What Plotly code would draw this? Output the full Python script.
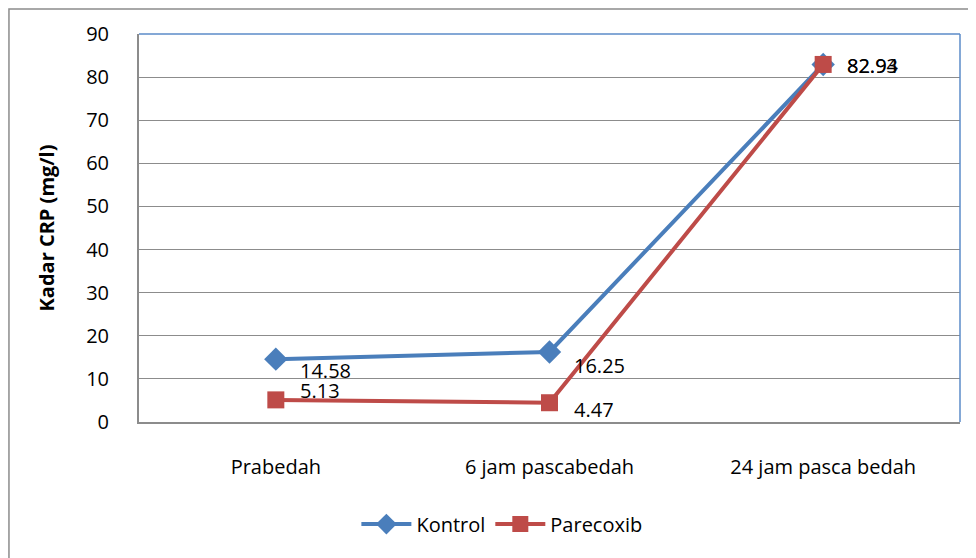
import plotly.graph_objects as go

categories = ["Prabedah", "6 jam pascabedah", "24 jam pasca bedah"]
kontrol = [14.58, 16.25, 82.93]
parecoxib = [5.13, 4.47, 82.94]
kontrol_labels = ["14.58", "16.25", "82.93"]
parecoxib_labels = ["5.13", "4.47", "82.94"]
y_ticks = [0, 10, 20, 30, 40, 50, 60, 70, 80, 90]

BLUE = "#4A7EBB"
RED = "#BE4B48"
FONT = "Open Sans, Lato, sans-serif"
FS = 20

fig = go.Figure()
fig.add_trace(go.Scatter(
    x=categories, y=kontrol, name="Kontrol", mode="lines+markers",
    line=dict(color=BLUE, width=4),
    marker=dict(symbol="diamond", size=18, color=BLUE),
))
fig.add_trace(go.Scatter(
    x=categories, y=parecoxib, name="Parecoxib", mode="lines+markers",
    line=dict(color=RED, width=4),
    marker=dict(symbol="square", size=17, color=RED),
))

# data labels
k_shift = [-11, -14, -1]
p_shift = [9, -7, -1]
for i, c in enumerate(categories):
    fig.add_annotation(x=c, y=kontrol[i], text=kontrol_labels[i], showarrow=False,
                       xanchor="left", xshift=22, yshift=k_shift[i],
                       font=dict(family=FONT, size=FS, color="black"))
    fig.add_annotation(x=c, y=parecoxib[i], text=parecoxib_labels[i], showarrow=False,
                       xanchor="left", xshift=22, yshift=p_shift[i],
                       font=dict(family=FONT, size=FS, color="black"))

# plot-area top/right border (blue) and outer chart border (gray)
fig.add_shape(type="line", xref="paper", yref="paper", x0=0, x1=1, y0=1, y1=1,
              line=dict(color="#5B8BC9", width=1.5))
fig.add_shape(type="line", xref="paper", yref="paper", x0=1, x1=1, y0=0, y1=1,
              line=dict(color="#5B8BC9", width=1.5))
fig.add_shape(type="rect", xref="paper", yref="paper", x0=-0.1584, x1=1.05, y0=-0.5, y1=1.0644,
              line=dict(color="#8C8C8C", width=1.5))

fig.update_layout(
    width=968, height=550,
    margin=dict(l=131, r=16, t=26, b=136),
    paper_bgcolor="white", plot_bgcolor="white",
    font=dict(family=FONT, size=FS, color="black"),
    showlegend=True,
    legend=dict(orientation="h", x=0.442, y=-0.263, xanchor="center", yanchor="middle",
                font=dict(family=FONT, size=FS), itemwidth=50),
    xaxis=dict(
        type="category", range=[-0.5, 2.5], showgrid=False,
        showline=True, linecolor="#8C8C8C", linewidth=2,
        ticks="", ticklabelstandoff=26,
        tickfont=dict(family=FONT, size=FS),
    ),
    yaxis=dict(
        range=[0, 90], tickvals=y_ticks, showgrid=True, gridcolor="#8C8C8C", gridwidth=1,
        showline=True, linecolor="#8C8C8C", linewidth=2, zeroline=False,
        ticks="", ticklabelstandoff=24,
        tickfont=dict(family=FONT, size=FS),
        title=dict(text="<b>Kadar CRP (mg/l)</b>", font=dict(family=FONT, size=20), standoff=26),
    ),
)

fig.write_html("out.html")
